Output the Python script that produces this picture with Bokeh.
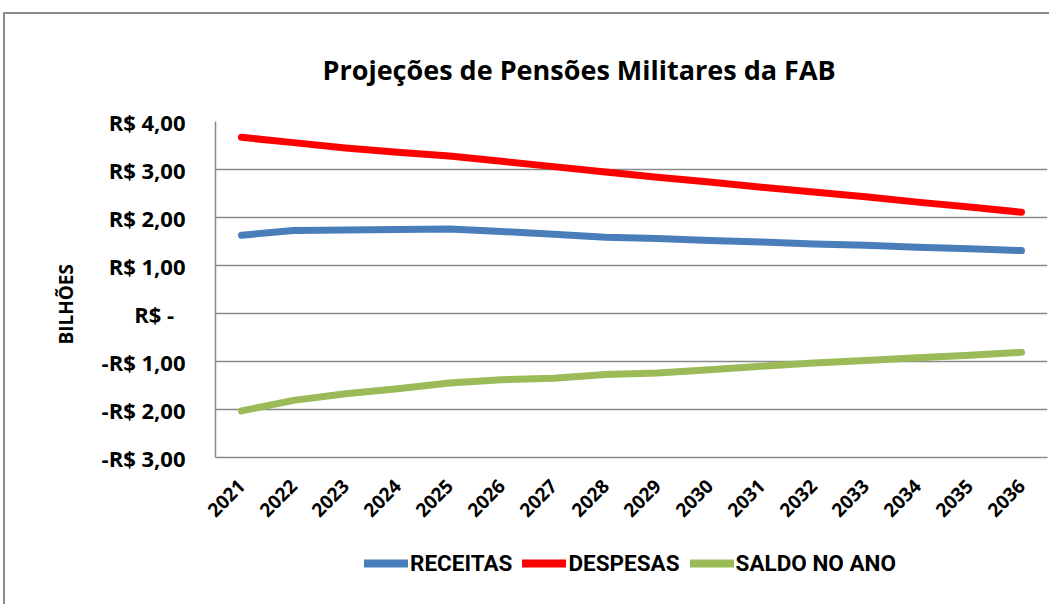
import math
from bokeh.plotting import figure
from bokeh.layouts import column
from bokeh.models import FactorRange, FixedTicker, Legend, LegendItem, ColumnDataSource
from bokeh.embed import file_html
from bokeh.resources import INLINE

years = ["2021", "2022", "2023", "2024", "2025", "2026", "2027", "2028",
         "2029", "2030", "2031", "2032", "2033", "2034", "2035", "2036"]
receitas = [1.63, 1.73, 1.74, 1.75, 1.76, 1.71, 1.65, 1.59, 1.56, 1.52, 1.49, 1.45, 1.42, 1.38, 1.35, 1.31]
despesas = [3.67, 3.56, 3.45, 3.36, 3.28, 3.17, 3.06, 2.95, 2.84, 2.74, 2.63, 2.53, 2.43, 2.32, 2.22, 2.11]
saldo = [-2.03, -1.81, -1.67, -1.57, -1.45, -1.38, -1.35, -1.27, -1.24, -1.17, -1.10, -1.03, -0.98, -0.92, -0.87, -0.81]
y_ticks = [-3, -2, -1, 0, 1, 2, 3, 4]
y_tick_labels = ["-R$ 3,00", "-R$ 2,00", "-R$ 1,00", "R$ -\u00a0\u00a0", "R$ 1,00", "R$ 2,00", "R$ 3,00", "R$ 4,00"]
series_names = ["RECEITAS", "DESPESAS", "SALDO NO ANO"]
colors = ["#4a7ebb", "#ff0000", "#9bbb59"]

FONT = "Open Sans"
LEGEND_FONT = "Roboto"

p = figure(width=1044, height=520, x_range=FactorRange(*years), y_range=(-3, 4),
           output_backend="svg", toolbar_location=None,
           min_border_left=210, min_border_right=2, min_border_top=106, min_border_bottom=77)

p.title.text = "Projeções de Pensões Militares da FAB"
p.title.text_font = FONT
p.title.text_font_size = "27px"
p.title.text_font_style = "bold"
p.title.text_color = "#000000"
p.title.align = "left"
p.title.offset = 107
p.title.standoff = 68

p.outline_line_color = None
p.xgrid.grid_line_color = None
p.ygrid.grid_line_color = "#8a8a8a"
p.ygrid.grid_line_width = 1.5

p.yaxis.ticker = FixedTicker(ticks=y_ticks)
p.yaxis.major_label_overrides = {t: l for t, l in zip(y_ticks, y_tick_labels)}
p.yaxis.major_label_text_font = FONT
p.yaxis.major_label_text_font_size = "22px"
p.yaxis.major_label_text_font_style = "bold"
p.yaxis.major_label_text_color = "#000000"
p.yaxis.major_label_standoff = 30
p.yaxis.major_tick_out = 0
p.yaxis.major_tick_in = 0
p.yaxis.minor_tick_line_color = None
p.yaxis.axis_line_color = "#8a8a8a"
p.yaxis.axis_line_width = 1.5
p.yaxis.axis_label = "BILHÕES" + "\u00a0" * 6
p.yaxis.axis_label_text_font = FONT
p.yaxis.axis_label_text_font_size = "19px"
p.yaxis.axis_label_text_font_style = "bold"
p.yaxis.axis_label_text_color = "#000000"
p.yaxis.axis_label_standoff = 20

p.xaxis.major_label_orientation = math.pi / 4
p.xaxis.major_label_text_font = FONT
p.xaxis.major_label_text_font_size = "19px"
p.xaxis.major_label_text_font_style = "bold"
p.xaxis.major_label_text_color = "#000000"
p.xaxis.major_label_standoff = 19
p.xaxis.major_tick_line_color = None
p.xaxis.axis_line_color = "#8a8a8a"
p.xaxis.axis_line_width = 1.5

for name, vals, c in zip(series_names, [receitas, despesas, saldo], colors):
    src = ColumnDataSource(dict(x=years, y=vals))
    p.line("x", "y", source=src, line_color=c, line_width=7, line_cap="round", line_join="round")

# legend strip below the chart (its frame aligns with the chart frame)
q = figure(width=1044, height=70, x_range=(0, 1), y_range=(0, 1),
           output_backend="svg", toolbar_location=None,
           min_border_left=0, min_border_right=0, min_border_top=0, min_border_bottom=0)
q.axis.visible = False
q.grid.grid_line_color = None
q.outline_line_color = None
leg_renderers = []
for name, c in zip(series_names, colors):
    r = q.line(x=[-5, -4], y=[-5, -5], line_color=c, line_width=8, line_cap="round")
    leg_renderers.append(r)

legend = Legend(items=[LegendItem(label=n, renderers=[r]) for n, r in zip(series_names, leg_renderers)],
                orientation="horizontal", location=(149, 28))
legend.label_text_font = LEGEND_FONT
legend.label_text_font_size = "22.5px"
legend.label_text_font_style = "bold"
legend.label_text_color = "#000000"
legend.glyph_width = 44
legend.glyph_height = 24
legend.label_standoff = 2
legend.spacing = 10
legend.border_line_color = None
legend.background_fill_alpha = 0
legend.margin = 0
legend.padding = 0
q.add_layout(legend, "center")

layout = column(p, q, spacing=0,
                styles={"margin-top": "12px", "margin-left": "3px",
                        "border-top": "2px solid #8c8c8c", "border-left": "2px solid #8c8c8c"})

open("out.html", "w").write(file_html(layout, INLINE))
